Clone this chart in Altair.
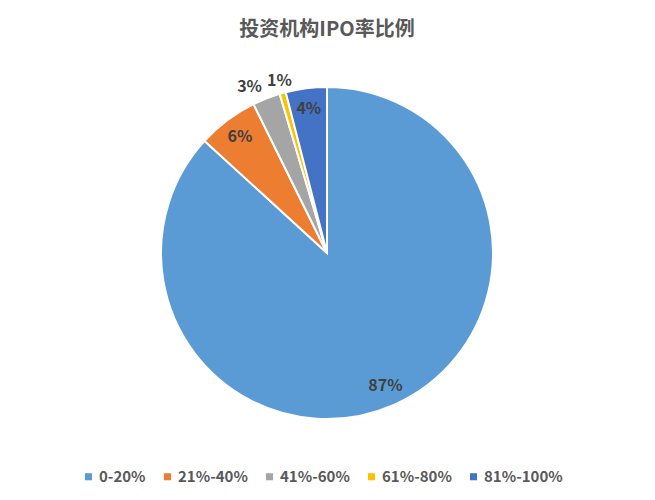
import altair as alt
import pandas as pd

categories = ["0-20%", "21%-40%", "41%-60%", "61%-80%", "81%-100%"]
values = [86.8, 5.9, 2.7, 0.6, 4.0]
labels = ["87%", "6%", "3%", "1%", "4%"]
colors = ["#5B9BD5", "#ED7D31", "#A5A5A5", "#FFC000", "#4472C4"]

df = pd.DataFrame({
    "cat": categories,
    "value": values,
    "label": labels,
    "idx": list(range(len(categories))),
})
total = float(sum(values))

FONT = "Noto Sans CJK SC"
theta_scale = alt.Scale(domain=[0, total])

arcs = alt.Chart(df).mark_arc(outerRadius=166, stroke="white", strokeWidth=2).encode(
    theta=alt.Theta("value:Q", stack=True, scale=theta_scale),
    order=alt.Order("idx:Q", sort="ascending"),
    color=alt.Color(
        "cat:N",
        scale=alt.Scale(domain=categories, range=colors),
        sort=categories,
        legend=alt.Legend(
            title=None,
            orient="none",
            direction="horizontal",
            legendX=73,
            legendY=419,
            symbolType="square",
            symbolSize=50,
            symbolStrokeWidth=0,
            labelFont=FONT,
            labelFontSize=15,
            labelFontWeight="bold",
            labelColor="#595959",
            columnPadding=14,
            labelOffset=3,
        ),
    ),
)

stacked = alt.Chart(df).transform_stack(
    stack="value", groupby=[], as_=["v0", "v1"], sort=[alt.SortField("idx", order="ascending")]
).transform_calculate(
    mid="(datum.v0 + datum.v1) / 2",
)

enc = dict(
    theta=alt.Theta("mid:Q", stack=None, scale=theta_scale),
    text="label:N",
)
style = dict(font=FONT, fontSize=16, fontWeight="bold", color="#404040")

text_in = stacked.transform_filter("datum.value >= 3").mark_text(radius=145, **style).encode(**enc)
text_mid = stacked.transform_filter("datum.value >= 1 && datum.value < 3").mark_text(
    radius=178, align="right", **style
).encode(**enc)
text_tiny = stacked.transform_filter("datum.value < 1").mark_text(radius=178, **style).encode(**enc)

chart = (
    alt.layer(arcs, text_in, text_mid, text_tiny)
    .properties(
        width=638,
        height=406,
        padding={"top": 12, "left": 0, "right": 0, "bottom": 0},
        title=alt.Title(
            "投资机构IPO率比例",
            font=FONT,
            fontSize=20,
            fontWeight="bold",
            color="#595959",
            offset=10,
        ),
    )
    .configure_view(stroke=None)
    .configure(background="white")
)

chart.save("out.html", embed_options={"renderer": "svg", "actions": False})
